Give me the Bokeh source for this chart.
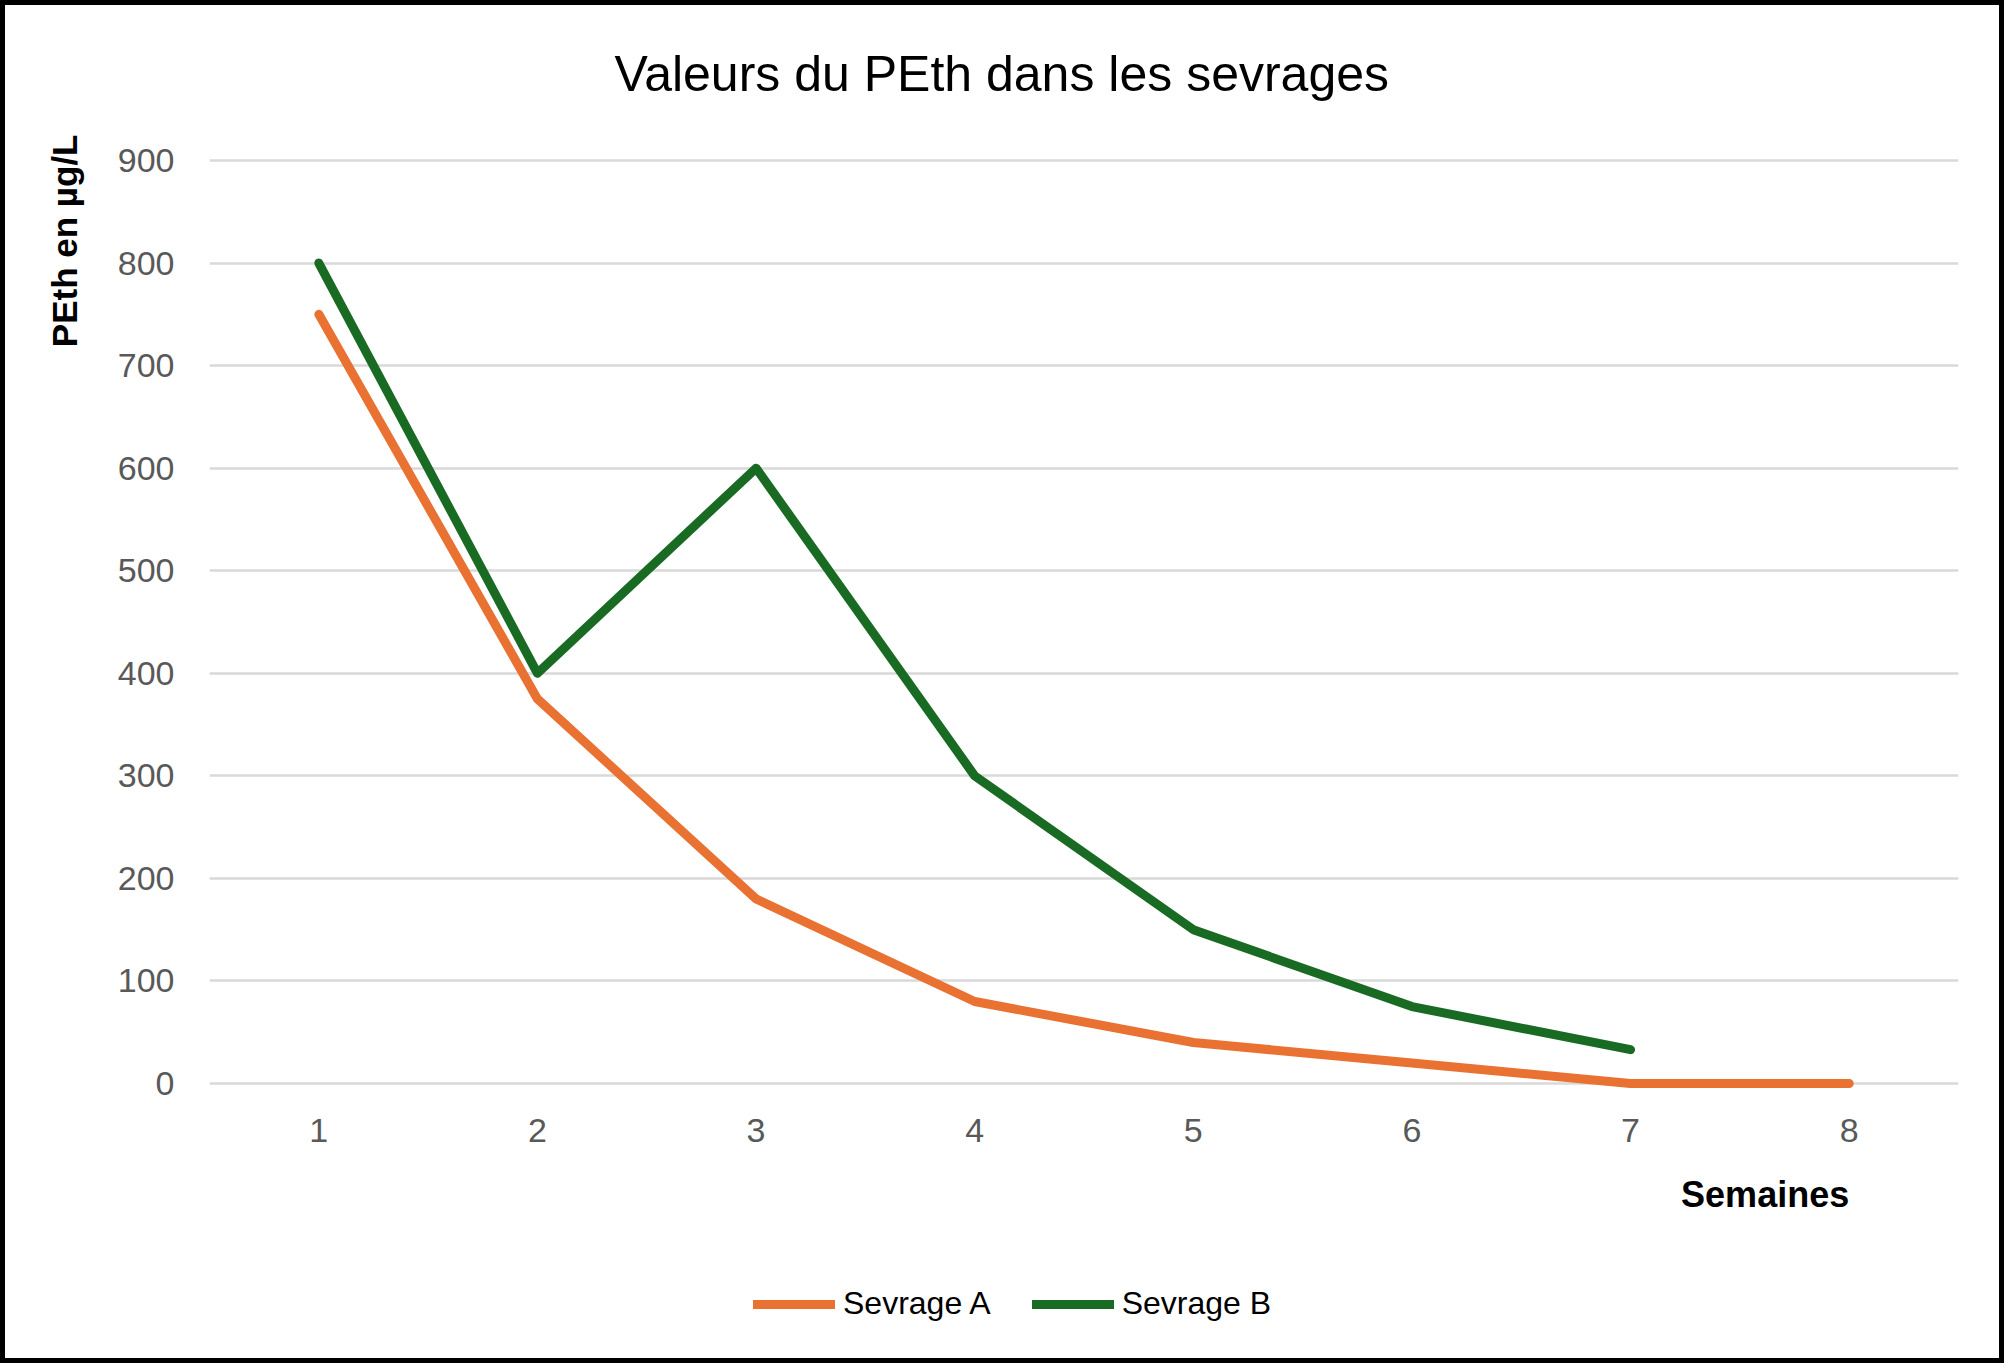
from bokeh.plotting import figure
from bokeh.models import (Legend, LegendItem, FixedTicker, Range1d, Title,
                          Label, LinearAxis)
from bokeh.embed import file_html
from bokeh.resources import INLINE

# ---- data ----
weeks_a = [1, 2, 3, 4, 5, 6, 7, 8]
sevrage_a = [750, 375, 180, 80, 40, 20, 0, 0]
weeks_b = [1, 2, 3, 4, 5, 6, 7]
sevrage_b = [800, 400, 600, 300, 150, 75, 33]
x_ticks = [1, 2, 3, 4, 5, 6, 7, 8]
y_ticks = [0, 100, 200, 300, 400, 500, 600, 700, 800, 900]
series_names = ["Sevrage A", "Sevrage B"]
title_text = "Valeurs du PEth dans les sevrages"
x_label = "Semaines"
y_label = "PEth en µg/L"

ORANGE = "#E97132"
GREEN = "#196B24"
FONT = "Liberation Sans"

# ---- layout geometry (pixels) ----
W, H = 2004, 1363
PX_PER_UNIT = 923 / 900          # vertical scale of the value axis
FRAME_BELOW_ZERO = 277           # frame extends below 0 to hold labels/legend
y_start = -FRAME_BELOW_ZERO / PX_PER_UNIT
y_end = 900 + 6 / PX_PER_UNIT

p = figure(width=W, height=H, output_backend="svg", toolbar_location=None,
           x_range=Range1d(0.5, 8.5), y_range=Range1d(y_start, y_end),
           x_axis_location=None,
           min_border_left=204, min_border_right=51,
           min_border_top=149, min_border_bottom=8)
p.styles = {"border": "5px solid black"}
p.outline_line_color = None
p.background_fill_color = "white"
p.border_fill_color = "white"

r_a = p.line(weeks_a, sevrage_a, line_color=ORANGE, line_width=9,
             line_cap="round", line_join="round")
r_b = p.line(weeks_b, sevrage_b, line_color=GREEN, line_width=9,
             line_cap="round", line_join="round")

# x axis fixed on the zero line, inside the frame
xaxis = LinearAxis(fixed_location=0, ticker=FixedTicker(ticks=x_ticks))
p.add_layout(xaxis, "below")

p.yaxis.ticker = FixedTicker(ticks=y_ticks)
for ax in (xaxis, p.yaxis[0]):
    ax.axis_line_color = None
    ax.major_tick_line_color = None
    ax.minor_tick_line_color = None
    ax.major_tick_out = 0
    ax.major_tick_in = 0
    ax.minor_tick_out = 0
    ax.minor_tick_in = 0
    ax.major_label_text_font = FONT
    ax.major_label_text_font_size = "34px"
    ax.major_label_text_color = "#595959"
xaxis.major_label_standoff = 35
p.yaxis.major_label_standoff = 35

p.xgrid.visible = False
p.ygrid.grid_line_color = "#D9D9D9"
p.ygrid.grid_line_width = 2.5

# ---- titles ----
p.add_layout(Title(text=" ", text_font_size="2px", standoff=49), "above")
p.add_layout(Title(text=title_text, text_font=FONT, text_font_size="50px",
                   text_font_style="normal", text_color="black",
                   align="left", offset=405, vertical_align="bottom",
                   standoff=0), "above")

p.add_layout(Title(text=y_label, text_font=FONT, text_font_size="35px",
                   text_font_style="bold", text_color="black",
                   align="right", offset=-20, vertical_align="top",
                   standoff=58), "left")

# x label, right end (data coordinates, inside the extended frame)
p.add_layout(Label(x=8.0, y=-108, text=x_label, text_font=FONT,
                   text_font_size="36px", text_font_style="bold",
                   text_color="black", text_align="right",
                   text_baseline="alphabetic"))

legend = Legend(items=[LegendItem(label=series_names[0], renderers=[r_a]),
                       LegendItem(label=series_names[1], renderers=[r_b])],
                location=(544, 38), orientation="horizontal",
                glyph_width=82, glyph_height=20, label_height=20,
                label_standoff=8, spacing=41,
                padding=0, margin=0, border_line_color=None,
                background_fill_alpha=0,
                label_text_font=FONT, label_text_font_size="32px",
                label_text_color="black")
p.add_layout(legend, "center")

open("out.html", "w").write(file_html(p, INLINE))
